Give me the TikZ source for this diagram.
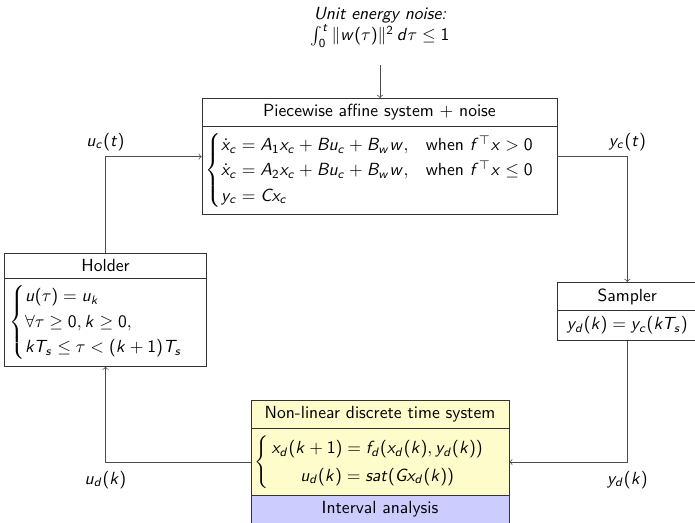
\documentclass[tikz,border=0pt]{standalone}
\usepackage{amsmath}
\usetikzlibrary{shapes.multipart}
\renewcommand{\familydefault}{\sfdefault}

% sans serif math letters and digits
\DeclareSymbolFont{sfit}{OT1}{cmss}{m}{sl}
\DeclareSymbolFont{sfup}{OT1}{cmss}{m}{n}
\makeatletter
\def\sfletter#1{\DeclareMathSymbol{#1}{\mathalpha}{sfit}{`#1}}
\def\sfdigit#1{\DeclareMathSymbol{#1}{\mathalpha}{sfup}{`#1}}
\@tfor\c:=abcdefghijklmnopqrstuvwxyzABCDEFGHIJKLMNOPQRSTUVWXYZ\do{\expandafter\sfletter\c}
\@tfor\c:=0123456789\do{\expandafter\sfdigit\c}
\makeatother
\DeclareMathSymbol{(}{\mathopen}{sfup}{`(}
\DeclareMathSymbol{)}{\mathclose}{sfup}{`)}

\tikzset{
	blockbox/.style={draw=black!80, rectangle split, rectangle split parts=2, inner xsep=2pt, inner ysep=3.3pt, rectangle split part align={center, left, center}},
	wire/.style={->, draw=black!70},
}

\begin{document}
\begin{tikzpicture}[x=0.02cm, y=-0.02cm]
			%%%%% START %%%%%
			\clip (0,0) rectangle (695,522);
			
			\node[anchor=south, align=center, inner xsep=1pt, inner ysep=10pt] (noise) at (380,65) {\textit{Unit energy noise:}\\ $\int_0^t \|w(\tau)\|^2\, d\tau \leq 1$};
			
			\node[blockbox, minimum width=7.1cm, anchor=north] (pwa) at (379.5,98) {Piecewise affine system + noise
				\nodepart{two} $\begin{cases} \dot{x}_c = A_1x_c + Bu_c + B_ww, & \text{when } f^\top x > 0\\ \dot{x}_c = A_2x_c + Bu_c + B_ww, & \text{when } f^\top x \leq 0\\ y_c = Cx_c \end{cases}$};
			
			\node[blockbox, minimum width=3.9cm, inner xsep=3pt, anchor=north] (holder) at (105.5,253) {Holder
				\nodepart{two} $\begin{cases} u(\tau) = u_k\\ \forall \tau \geq 0, k \geq 0,\\ kT_s \leq \tau < (k+1)T_s \end{cases}$};
			
			\node[blockbox, minimum width=2.8cm, rectangle split part align=center, anchor=north west] (sampler) at (557,282) {Sampler
				\nodepart{two} $y_d(k) = y_c(kT_s)$};
			
			\node[blockbox, minimum width=5.16cm, rectangle split parts=3, rectangle split part fill={yellow!20, yellow!20, blue!20}, anchor=north] (ndts) at (380,400) {Non-linear discrete time system
				\nodepart{two} $\renewcommand{\arraystretch}{1.3}\left\{\begin{array}{@{\,}c@{}} x_d(k+1) = f_d(x_d(k), y_d(k))\\ u_d(k) = sat(Gx_d(k)) \end{array}\right.$
				\nodepart{three} Interval analysis};
			
			% signals
			\draw[wire] (noise.south) -- (noise.south |- pwa.north);
			\draw[wire] (holder.north) |- (pwa.west);
			\draw[wire] (pwa.east) -| (sampler.north);
			\draw[wire] (sampler.south) |- (ndts.east);
			\draw[wire] (ndts.west) -| (holder.south);
			
			\node[above] (uc) at (holder.north |- pwa.west) {$u_c(t)$};
			\node[above] (yc) at (sampler.north |- pwa.east) {$y_c(t)$};
			\node[below=1.5pt] (ud) at (holder.south |- ndts.west) {$u_d(k)$};
			\node[below=1.5pt] (yd) at (sampler.south |- ndts.east) {$y_d(k)$};
			%%%%% END %%%%%
\end{tikzpicture}
\end{document}
